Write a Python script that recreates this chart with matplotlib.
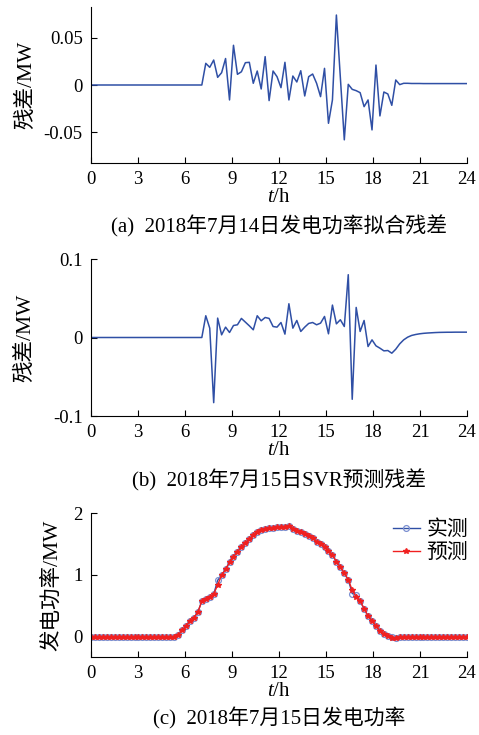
import numpy as np
import matplotlib
matplotlib.use('Agg')
import matplotlib.pyplot as plt

plt.rcParams['font.family'] = ['Liberation Serif', 'Noto Sans CJK SC']
plt.rcParams['mathtext.fontset'] = 'custom'
plt.rcParams['mathtext.rm'] = 'Liberation Serif'
plt.rcParams['mathtext.it'] = 'Liberation Serif:italic'
plt.rcParams['axes.unicode_minus'] = False

# time axis: 96 samples over the day
t = np.linspace(0, 24, 96)

# (a) fitting residual 2018-07-14, samples 29..95 (earlier samples are 0)
res_a_start = 29
res_a = [0.0229, 0.0187, 0.0264, 0.0081, 0.013, 0.028, -0.0158, 0.042, 0.0113, 0.014,
         0.0236, 0.024, 0.0018, 0.0148, -0.0042, 0.030, -0.0165, 0.0148, 0.0088, -0.0028,
         0.024, -0.0158, 0.0095, 0.0032, 0.0151, -0.0116, 0.0088, 0.0116, 0.0018, -0.0123,
         0.0176, -0.0405, -0.0158, 0.074, 0.008, -0.058, 0.0007, -0.0046, -0.006, -0.0081,
         -0.0229, -0.0158, -0.0475, 0.0211, -0.0327, -0.0074, -0.0095, -0.0215, 0.0053, 0.0004,
         0.0018, 0.0018, 0.0016, 0.0016, 0.0016, 0.0015, 0.0015, 0.0015, 0.0015, 0.0015,
         0.0015, 0.0015, 0.0015, 0.0015, 0.0015, 0.0015, 0.0015]

# (b) SVR prediction residual 2018-07-15
res_b_start = 29
res_b = [0.0277, 0.0119, -0.083, 0.0247, 0.0034, 0.0132, 0.0064, 0.0153, 0.0162, 0.0243,
         0.0196, 0.0149, 0.0098, 0.0277, 0.0213, 0.0255, 0.0243, 0.014, 0.0132, 0.0191,
         0.0043, 0.043, 0.0119, 0.0217, 0.0077, 0.0132, 0.0179, 0.0191, 0.0162, 0.0183,
         0.0268, 0.0047, 0.0413, 0.0174, 0.0226, 0.014, 0.080, -0.0787, 0.0383, 0.0077,
         0.0217, -0.0115, -0.003, -0.0106, -0.0136, -0.017, -0.0166, -0.020, -0.0149, -0.0081,
         -0.003, 0.0004, 0.0026, 0.0038, 0.0047, 0.0053, 0.0057, 0.006, 0.0063, 0.0065,
         0.0066, 0.0067, 0.0067, 0.0068, 0.0068, 0.0068, 0.0068]

# (c) measured / predicted power 2018-07-15, samples 22..77 (others ~0)
pw_start = 22
pw_meas = [0.028, 0.107, 0.173, 0.261, 0.313, 0.401, 0.578, 0.616, 0.644, 0.690,
           0.914, 0.998, 1.092, 1.204, 1.297, 1.372, 1.455, 1.521, 1.577, 1.642,
           1.689, 1.726, 1.745, 1.759, 1.763, 1.769, 1.782, 1.782, 1.791, 1.745,
           1.717, 1.689, 1.661, 1.633, 1.591, 1.539, 1.502, 1.446, 1.390, 1.325,
           1.213, 1.129, 1.026, 0.924, 0.700, 0.681, 0.578, 0.457, 0.336, 0.261,
           0.173, 0.093, 0.043, 0.011, -0.006, -0.01]
pw_pred = [0.028, 0.107, 0.173, 0.261, 0.313, 0.401, 0.578, 0.616, 0.644, 0.690,
           0.840, 0.998, 1.092, 1.204, 1.297, 1.372, 1.455, 1.521, 1.577, 1.642,
           1.689, 1.726, 1.745, 1.759, 1.763, 1.769, 1.782, 1.782, 1.791, 1.745,
           1.717, 1.689, 1.661, 1.633, 1.591, 1.539, 1.502, 1.446, 1.390, 1.325,
           1.213, 1.129, 1.026, 0.924, 0.756, 0.644, 0.578, 0.457, 0.336, 0.261,
           0.173, 0.093, 0.043, 0.011, -0.01, -0.015]

xticks = [0, 3, 6, 9, 12, 15, 18, 21, 24]
captions = ['(a)  2018年7月14日发电功率拟合残差',
            '(b)  2018年7月15日SVR预测残差',
            '(c)  2018年7月15日发电功率']


def full(vals, start):
    y = np.zeros(96)
    y[start:start + len(vals)] = vals
    return y


W, H = 479, 735
fig = plt.figure(figsize=(W / 100, H / 100), dpi=100)


def make_ax(top, bottom):
    ax = fig.add_axes([91 / W, 1 - bottom / H, 376 / W, (bottom - top) / H])
    ax.spines['top'].set_visible(False)
    ax.spines['right'].set_visible(False)
    ax.tick_params(direction='in', labelsize=13.5, length=4, width=0.8, pad=6)
    ax.set_xlim(0, 24)
    ax.set_xticks(xticks)
    ax.set_xlabel('$t$/h', fontsize=15, labelpad=0)
    return ax


blue = '#2f4fa5'

ax1 = make_ax(7, 163)
ax1.plot(t, full(res_a, res_a_start), color=blue, lw=1.1)
ax1.set_ylim(-0.0825, 0.0825)
ax1.set_yticks([-0.05, 0, 0.05])
ax1.set_yticklabels(['-0.05', '0', '0.05'])
ax1.set_ylabel('残差/MW', fontsize=15.5, labelpad=5)

ax2 = make_ax(259, 416)
ax2.plot(t, full(res_b, res_b_start), color=blue, lw=1.1)
ax2.set_ylim(-0.1, 0.1)
ax2.set_yticks([-0.1, 0, 0.1])
ax2.set_yticklabels(['-0.1', '0', '0.1'])
ax2.set_ylabel('残差/MW', fontsize=15.5, labelpad=13)

ax3 = make_ax(513, 657)
ax3.plot(t, full(pw_meas, pw_start), color=blue, lw=1.0, marker='o', ms=4.2,
         mfc='none', mec='#7b8fd0', mew=0.9, label='实测')
ax3.plot(t, full(pw_pred, pw_start), color='#f02020', lw=1.0, marker='*', ms=4,
         mec='#f02020', label='预测')
ax3.set_ylim(-0.323, 2.0)
ax3.set_yticks([0, 1, 2])
ax3.set_ylabel('发电功率/MW', fontsize=15.5, labelpad=8)
ax3.legend(loc='upper right', frameon=False, fontsize=15, handlelength=1.3,
           handletextpad=0.3, borderaxespad=0.1, labelspacing=0.15,
           bbox_to_anchor=(1.03, 1.02))

for cy, cap in zip([226, 480, 718], captions):
    fig.text(279 / W, 1 - cy / H, cap, ha='center', va='center', fontsize=15)

fig.savefig('out.png', dpi=100)
